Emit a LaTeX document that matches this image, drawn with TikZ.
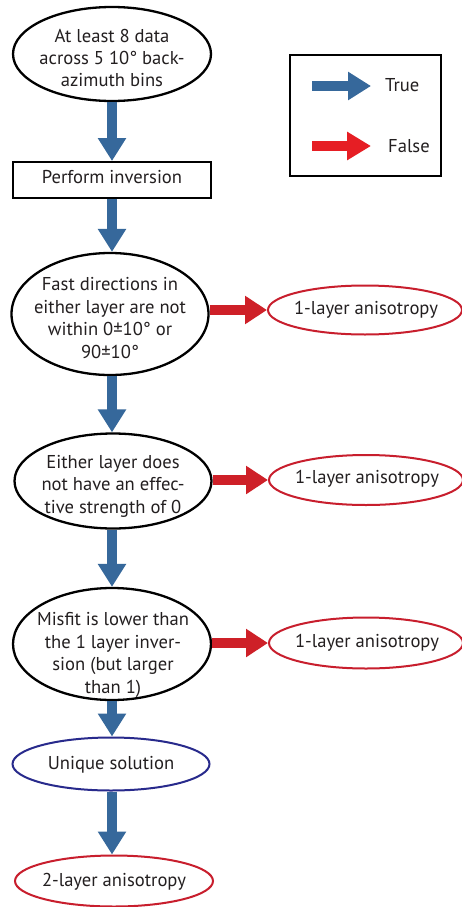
\documentclass[tikz,border=0pt]{standalone}
\usepackage{fontspec}
\setmainfont{PT Sans}
\usetikzlibrary{shapes.geometric,arrows.meta}
\definecolor{arrblue}{RGB}{54,104,155}
\definecolor{arrred}{RGB}{206,32,40}
\definecolor{legred}{RGB}{230,30,36}
\definecolor{outred}{RGB}{200,30,45}
\definecolor{outnavy}{RGB}{40,42,140}
\definecolor{txt}{RGB}{35,31,32}
\tikzset{
  decision/.style={ellipse, draw=black, line width=2.3pt, inner sep=0pt},
  result/.style={ellipse, draw=outred, line width=2pt, inner sep=0pt},
  solution/.style={ellipse, draw=outnavy, line width=2pt, inner sep=0pt},
  procbox/.style={rectangle, draw=black, line width=2pt, inner sep=0pt},
  lbl/.style={align=center, text=txt, font=\fontsize{18.6}{22.4}\selectfont, inner sep=0pt},
  truearrow/.style={draw=arrblue, line width=10.5pt, -{Triangle[width=27pt,length=23pt,color=arrblue]}},
  falsearrow/.style={draw=arrred, line width=10pt, -{Triangle[width=27pt,length=22pt,color=arrred]}},
  legfalse/.style={draw=legred, line width=10pt, -{Triangle[width=27pt,length=24pt,color=legred]}},
}
\begin{document}
\begin{tikzpicture}[x=1pt,y=-1pt]
\useasboundingbox[fill=white] (0,0) rectangle (461,907);

% legend
\node[draw=black, line width=1.5pt, minimum width=151pt, minimum height=121pt, inner sep=0pt] (legend) at (365.5,115.5) {};
\coordinate (lt1) at (312,86);
\coordinate (lt2) at (371,86);
\coordinate (lf1) at (312,146);
\coordinate (lf2) at (371,146);
\draw[truearrow] (lt1) -- (lt2);
\draw[legfalse] (lf1) -- (lf2);
\node[lbl, anchor=west] (ltrue) at (385,85) {True};
\node[lbl, anchor=west] (lfalse) at (388,146) {False};

% main column
\node[decision, minimum width=198pt, minimum height=94pt] (n1) at (112,54) {};
\node[lbl] (t1) at (112,58) {At least 8 data\\across 5 10° back-\\azimuth bins};

\node[procbox, minimum width=198pt, minimum height=36pt] (n2) at (112,180) {};
\node[lbl] (t2) at (112,177) {Perform inversion};

\node[decision, minimum width=197pt, minimum height=122pt] (n3) at (110,314) {};
\node[lbl] (t3) at (110,318) {Fast directions in\\either layer are not\\within 0±10° or\\90±10°};

\node[decision, minimum width=197pt, minimum height=95pt] (n4) at (113,481) {};
\node[lbl] (t4) at (113,486) {Either layer does\\not have an effec-\\tive strength of 0};

\node[decision, minimum width=198pt, minimum height=112pt] (n5) at (112,644) {};
\node[lbl] (t5) at (113,655) {Misfit is lower than\\the 1 layer inver-\\sion (but larger\\than 1)};

\node[solution, minimum width=197pt, minimum height=53pt] (n6) at (111,764) {};
\node[lbl] (t6) at (111,765) {Unique solution};

\node[result, minimum width=198pt, minimum height=51pt] (n7) at (114,881) {};
\node[lbl] (t7) at (114,882) {2-layer anisotropy};

% false results
\node[result, minimum width=194pt, minimum height=49pt] (r1) at (365,310) {};
\node[lbl] (tr1) at (366,310) {1-layer anisotropy};
\node[result, minimum width=194pt, minimum height=50pt] (r2) at (366,480) {};
\node[lbl] (tr2) at (367,479) {1-layer anisotropy};
\node[result, minimum width=194pt, minimum height=51pt] (r3) at (366,643) {};
\node[lbl] (tr3) at (367,643) {1-layer anisotropy};

% true arrows
\draw[truearrow] (n1.south -| 112,0) -- (n2.north -| 112,0);
\draw[truearrow] (n2.south -| 112,0) -- (n3.north -| 112,0);
\draw[truearrow] (n3.south -| 112,0) -- (n4.north -| 112,0);
\draw[truearrow] (n4.south -| 112,0) -- (n5.north -| 112,0);
\draw[truearrow] (n5.south -| 112,0) -- (n6.north -| 112,0);
\draw[truearrow] (n6.south -| 112,0) -- (n7.north -| 112,0);

% false arrows
\draw[falsearrow] (n3.east |- 0,310) -- (r1.west |- 0,310);
\draw[falsearrow] (n4.east |- 0,480) -- (r2.west |- 0,480);
\draw[falsearrow] (n5.east |- 0,643) -- (r3.west |- 0,643);
\end{tikzpicture}
\end{document}
